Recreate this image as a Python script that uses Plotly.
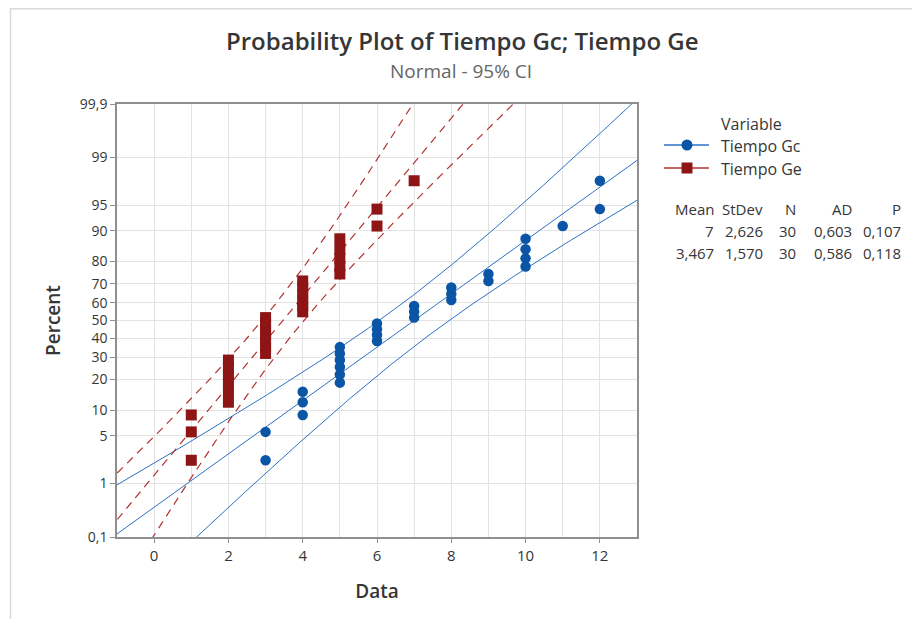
import numpy as np
import plotly.graph_objects as go
from statistics import NormalDist

nd = NormalDist()

# ---------------- data ----------------
series_names = ["Tiempo Gc", "Tiempo Ge"]
tiempo_gc = [3, 3, 4, 4, 4, 5, 5, 5, 5, 5, 5, 6, 6, 6, 6, 7, 7, 7, 8, 8, 8,
             9, 9, 10, 10, 10, 10, 11, 12, 12]
tiempo_ge = [1, 1, 1, 2, 2, 2, 2, 2, 2, 3, 3, 3, 3, 3, 3, 3, 4, 4, 4, 4, 4, 4,
             5, 5, 5, 5, 5, 6, 6, 7]

table_header = ["Mean", "StDev", "N", "AD", "P"]
table_gc = ["7", "2,626", "30", "0,603", "0,107"]
table_ge = ["3,467", "1,570", "30", "0,586", "0,118"]

pct_ticks = [0.1, 1, 5, 10, 20, 30, 40, 50, 60, 70, 80, 90, 95, 99, 99.9]
pct_labels = ["0,1", "1", "5", "10", "20", "30", "40", "50", "60", "70",
              "80", "90", "95", "99", "99,9"]
x_ticks = [0, 2, 4, 6, 8, 10, 12]

# ---------------- styling ----------------
OFF = 8  # page body margin offset
W, H = 920 - OFF, 619 - OFF
PW, PH = 520, 433
ML, MT = 117 - OFF, 104 - OFF
MR, MB = W - ML - PW, H - MT - PH
FONT = "Open Sans"
BLUE_M = "#0a55a6"
BLUE_L = "#2a72c4"
RED_M = "#8e1515"
RED_L = "#b33333"
GRID = "#e3e3e3"
AXIS = "#8f8f8f"
TXT = "#363636"


def px2x(px):
    return (px - OFF - ML) / PW


def py2y(py):
    return (MT + PH - (py - OFF)) / PH


def positions(vals):
    v = np.sort(np.asarray(vals, dtype=float))
    n = len(v)
    p = (np.arange(1, n + 1) - 0.3) / (n + 0.4)
    z = np.array([nd.inv_cdf(q) for q in p])
    return v, z


def fit_and_ci(vals):
    v = np.asarray(vals, dtype=float)
    n = len(v)
    mu, s = v.mean(), v.std(ddof=1)
    zz = np.linspace(-3.3, 3.3, 301)
    xp = mu + zz * s
    se = s * np.sqrt((1 + zz ** 2 / 2) / n)
    return zz, xp, xp - 1.96 * se, xp + 1.96 * se


fig = go.Figure()

for vals, lc, dash, lw in [(tiempo_gc, BLUE_L, "solid", 1.0),
                           (tiempo_ge, RED_L, "8px,6px", 1.2)]:
    zz, xp, lo, hi = fit_and_ci(vals)
    for xs in (xp, lo, hi):
        fig.add_trace(go.Scatter(x=xs, y=zz, mode="lines",
                                 line=dict(color=lc, width=lw, dash=dash),
                                 showlegend=False, hoverinfo="skip"))

for vals, mc, sym, name in [(tiempo_gc, BLUE_M, "circle", series_names[0]),
                             (tiempo_ge, RED_M, "square", series_names[1])]:
    v, z = positions(vals)
    fig.add_trace(go.Scatter(x=v, y=z, mode="markers", name=name,
                             marker=dict(color=mc, size=11 if sym == "square" else 10.5,
                                         symbol=sym, line=dict(width=0)),
                             showlegend=False))

yt = [nd.inv_cdf(p / 100) for p in pct_ticks]
zmax = nd.inv_cdf(0.999)

fig.update_xaxes(range=[-1, 13], tickmode="array", tickvals=x_ticks,
                 ticktext=[str(t) for t in x_ticks], automargin=False,
                 showgrid=True, gridcolor=GRID, gridwidth=1,
                 minor=dict(tickmode="linear", tick0=-1, dtick=1, showgrid=True,
                            gridcolor=GRID, gridwidth=1, ticks=""),
                 showline=True, linecolor=AXIS, linewidth=1.6, mirror=True,
                 ticks="outside", ticklen=4, tickcolor=AXIS, zeroline=False,
                 tickfont=dict(family=FONT, size=15, color=TXT),
                 title=dict(text="Data", font=dict(family=FONT, size=19, color=TXT,
                                                   weight=600), standoff=21))
fig.update_yaxes(range=[-zmax, zmax], tickmode="array", tickvals=yt,
                 ticktext=pct_labels, automargin=False,
                 showgrid=True, gridcolor=GRID, gridwidth=1,
                 showline=True, linecolor=AXIS, linewidth=1.6, mirror=True,
                 ticks="outside", ticklen=5, tickcolor=AXIS, zeroline=False,
                 tickfont=dict(family=FONT, size=14, color=TXT),
                 title=dict(text="Percent", font=dict(family=FONT, size=19, color=TXT,
                                                      weight=600), standoff=14))

ann = []
ann.append(dict(text="Probability Plot of Tiempo Gc; Tiempo Ge", x=px2x(462),
                y=py2y(40), xanchor="center", yanchor="middle",
                font=dict(family=FONT, size=24, color=TXT, weight=600)))
ann.append(dict(text="Normal - 95% CI", x=px2x(461), y=py2y(71), xanchor="center",
                yanchor="middle", font=dict(family=FONT, size=19, color="#666666")))
ann.append(dict(text="Variable", x=px2x(719), y=py2y(124), xanchor="left",
                yanchor="middle", font=dict(family=FONT, size=16, color=TXT)))
ann.append(dict(text=series_names[0], x=px2x(719), y=py2y(146), xanchor="left",
                yanchor="middle", font=dict(family=FONT, size=16, color=TXT)))
ann.append(dict(text=series_names[1], x=px2x(719), y=py2y(169), xanchor="left",
                yanchor="middle", font=dict(family=FONT, size=16, color=TXT)))

col_right = [716, 765, 798, 854, 903]
for row, py in [(table_header, 209), (table_gc, 231), (table_ge, 253)]:
    for txt, cx in zip(row, col_right):
        ann.append(dict(text=txt, x=px2x(cx), y=py2y(py), xanchor="right",
                        yanchor="middle", font=dict(family=FONT, size=15, color=TXT)))

for a in ann:
    a.update(xref="paper", yref="paper", showarrow=False)

shapes = []
# outer frame
shapes.append(dict(type="rect", xref="paper", yref="paper", x0=px2x(10.5), x1=px2x(940),
                   y0=py2y(640), y1=py2y(8.7), line=dict(color="#dadada", width=1.5)))
# legend samples
for py, lc, mc, kind in [(145, BLUE_L, BLUE_M, "circle"), (168, RED_L, RED_M, "rect")]:
    shapes.append(dict(type="line", xref="paper", yref="paper", x0=px2x(664),
                       x1=px2x(709), y0=py2y(py), y1=py2y(py),
                       line=dict(color=lc, width=1.5)))
    shapes.append(dict(type=kind, xref="paper", yref="paper", xsizemode="pixel",
                       ysizemode="pixel", xanchor=px2x(687), yanchor=py2y(py),
                       x0=-5.5, x1=5.5, y0=-5.5, y1=5.5, fillcolor=mc,
                       line=dict(width=0)))

fig.update_layout(width=W, height=H, margin=dict(l=ML, r=MR, t=MT, b=MB),
                  paper_bgcolor="white", plot_bgcolor="white",
                  annotations=ann, shapes=shapes, showlegend=False,
                  font=dict(family=FONT, color=TXT))

fig.write_html("out.html")
